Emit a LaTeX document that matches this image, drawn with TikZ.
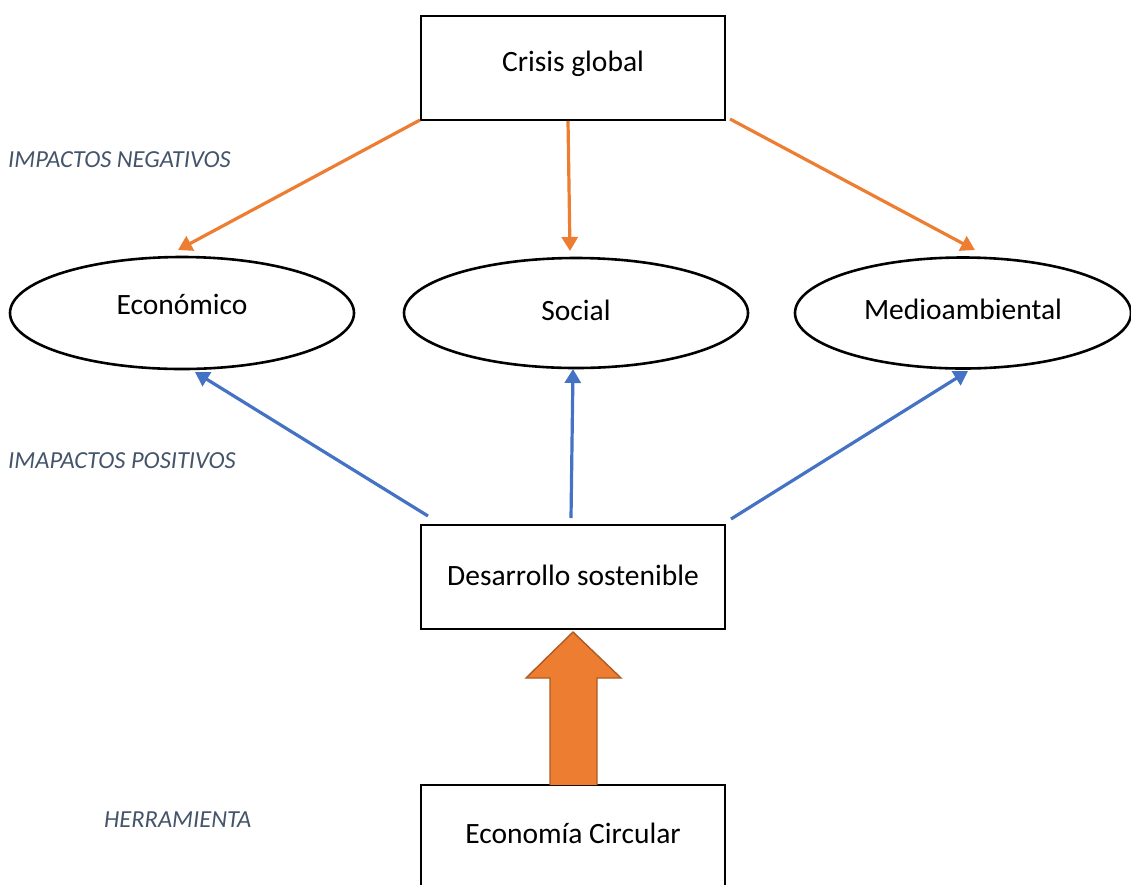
\documentclass[tikz,border=0pt]{standalone}
\usepackage{fontspec}
\setmainfont{Carlito}
\usetikzlibrary{shapes.geometric,arrows.meta}
\definecolor{orng}{HTML}{ED7D31}
\definecolor{orngdk}{HTML}{AE5A21}
\definecolor{blu}{HTML}{4472C4}
\definecolor{slate}{HTML}{44546A}
\begin{document}
\begin{tikzpicture}[x=1pt,y=-1pt,
  boxnode/.style={draw=black,line width=2.6pt,minimum width=304pt,minimum height=104pt,inner sep=0pt},
  ellnode/.style={draw=black,line width=2.6pt,ellipse,inner sep=0pt},
  txt/.style={font=\fontsize{29.5}{34}\selectfont,inner sep=0pt},
  lbl/.style={font=\fontsize{24.5}{28}\selectfont\itshape,text=slate,anchor=west,inner sep=0pt},
  negarrow/.style={draw=orng,line width=3.2pt,-{Triangle[length=14pt,width=16pt]}},
  posarrow/.style={draw=blu,line width=3.2pt,-{Triangle[length=14pt,width=16pt]}}]
\useasboundingbox (0,0) rectangle (1131,884);
\node[boxnode] (crisis) at (573,68) {};
\node[txt] at (573,64) (crisisT) {Crisis global};
\node[ellnode,minimum width=344pt,minimum height=112pt] (eco) at (182,313) {};
\node[txt] at (182,304) (ecoT) {Económico};
\node[ellnode,minimum width=344pt,minimum height=110pt] (soc) at (576,313) {};
\node[txt] at (576,310) (socT) {Social};
\node[ellnode,minimum width=336pt,minimum height=111pt] (med) at (963,313) {};
\node[txt] at (963,309) (medT) {Medioambiental};
\node[boxnode] (des) at (573,577) {};
\node[txt] at (573,575) (desT) {Desarrollo sostenible};
\node[draw=black,line width=2.6pt,minimum width=304pt,minimum height=110pt,inner sep=0pt] (ec) at (573,840) {};
\node[txt] at (573,833) (ecT) {Economía Circular};
\coordinate (c1) at (420,120);
\coordinate (c2) at (568,121);
\coordinate (c3) at (730,119);
\coordinate (e1) at (178,250);
\coordinate (s1) at (570,251);
\coordinate (m1) at (975,250);
\draw[negarrow] (c1) -- (e1);
\draw[negarrow] (c2) -- (s1);
\draw[negarrow] (c3) -- (m1);
\coordinate (d1) at (428,516);
\coordinate (d2) at (571,518);
\coordinate (d3) at (731,519);
\coordinate (e2) at (195,372);
\coordinate (s2) at (573,369);
\coordinate (m2) at (968,371);
\draw[posarrow] (d1) -- (e2);
\draw[posarrow] (d2) -- (s2);
\draw[posarrow] (d3) -- (m2);
\draw[fill=orng,draw=orngdk,line width=1.4pt] (550,785) -- (550,678) -- (526,678) -- (573,632) -- (621,678) -- (597,678) -- (597,785);
\node[lbl] (neg) at (8,160) {IMPACTOS NEGATIVOS};
\node[lbl] (pos) at (8,461) {IMAPACTOS POSITIVOS};
\node[lbl] (her) at (104,820) {HERRAMIENTA};
\end{tikzpicture}
\end{document}
